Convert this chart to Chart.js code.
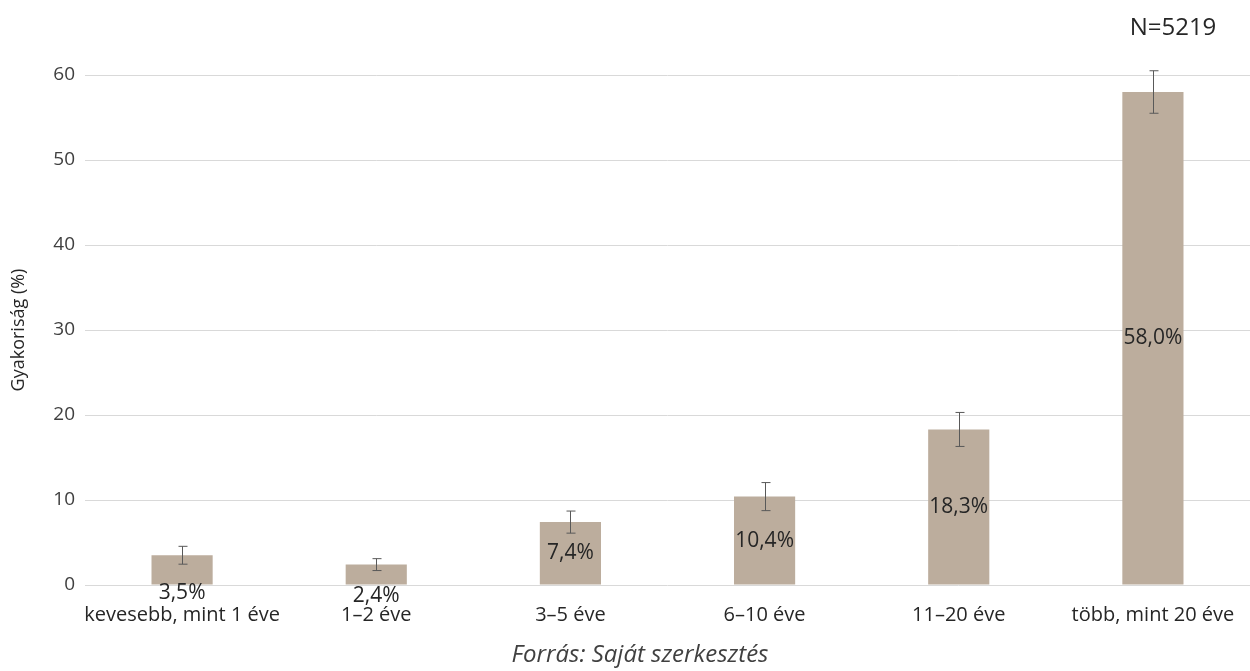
<!DOCTYPE html>
<html>
<head>
<meta charset="utf-8">
<script src="https://cdn.jsdelivr.net/npm/chart.js@4.4.0/dist/chart.umd.min.js"></script>
<style>
  html, body { margin: 0; padding: 0; background: #fff; }
  #wrap { width: 1250px; height: 671px; position: relative; }
</style>
</head>
<body>
<div id="wrap"><canvas id="myChart"></canvas></div>
<script>
var categories = ["kevesebb, mint 1 éve", "1–2 éve", "3–5 éve", "6–10 éve", "11–20 éve", "több, mint 20 éve"];
var values = [3.5, 2.4, 7.4, 10.4, 18.3, 58.0];
var errors = [1.05, 0.7, 1.3, 1.65, 2.0, 2.5];
var yTicks = [0, 10, 20, 30, 40, 50, 60];
var barColor = "#bcad9d";
var fontName = "'Open Sans', sans-serif";

// error bars + value labels + texts
var extras = {
  id: "extras",
  afterDatasetsDraw: function(chart) {
    var ctx = chart.ctx;
    var y = chart.scales.y;
    var meta = chart.getDatasetMeta(0);
    ctx.save();
    // error bars
    ctx.strokeStyle = "#595959";
    ctx.lineWidth = 1;
    meta.data.forEach(function(bar, i) {
      var x = Math.round(bar.x) + 0.5;
      var top = y.getPixelForValue(values[i] + errors[i]);
      var bot = y.getPixelForValue(values[i] - errors[i]);
      ctx.beginPath();
      ctx.moveTo(x, top); ctx.lineTo(x, bot);
      ctx.moveTo(x - 4, top); ctx.lineTo(x + 5, top);
      ctx.moveTo(x - 4, bot); ctx.lineTo(x + 5, bot);
      ctx.stroke();
    });
    // value labels
    ctx.fillStyle = "#262626";
    ctx.font = "21px " + fontName;
    ctx.textAlign = "center";
    ctx.textBaseline = "middle";
    meta.data.forEach(function(bar, i) {
      var cy = (bar.y + bar.base) / 2;
      if (bar.base - bar.y < 40) cy = bar.base + 5 + (40 - (bar.base - bar.y)) / 3;
      ctx.fillText(values[i].toFixed(1).replace(".", ",") + "%", bar.x, cy);
    });
    // N and source
    ctx.fillStyle = "#262626";
    ctx.font = "24px " + fontName;
    ctx.fillText("N=5219", 1173, 28);
    ctx.fillStyle = "#404040";
    ctx.font = "italic 24px " + fontName;
    ctx.fillText("Forrás: Saját szerkesztés", 640, 655);
    ctx.restore();
  }
};

new Chart("myChart", {
  type: "bar",
  data: {
    labels: categories,
    datasets: [{
      backgroundColor: barColor,
      data: values,
      barPercentage: 0.63,
      categoryPercentage: 0.5
    }]
  },
  options: {
    responsive: true,
    maintainAspectRatio: false,
    animation: false,
    layout: { padding: { top: 75, right: 0, bottom: 0, left: 0 } },
    plugins: {
      legend: { display: false },
      tooltip: { enabled: false }
    },
    scales: {
      x: {
        grid: { display: false, drawTicks: false },
        border: { display: false },
        ticks: { color: "#262626", font: { family: fontName, size: 20 }, padding: 18, maxRotation: 0, autoSkip: false },
        afterFit: function(s) { s.height = 86; s.paddingLeft = 0; s.paddingRight = 0; }
      },
      y: {
        min: 0, max: 60,
        afterBuildTicks: function(s) { s.ticks = yTicks.map(function(v) { return { value: v }; }); },
        grid: { color: "#d9d9d9", drawTicks: false },
        border: { display: false },
        ticks: { color: "#404040", font: { family: fontName, size: 19 }, padding: 10 },
        title: { display: true, text: "Gyakoriság (%)", color: "#262626", font: { family: fontName, size: 18 }, padding: { top: 8, bottom: 0 } },
        afterFit: function(s) { s.width = 85; }
      }
    }
  },
  plugins: [extras]
});
</script>
</body>
</html>
